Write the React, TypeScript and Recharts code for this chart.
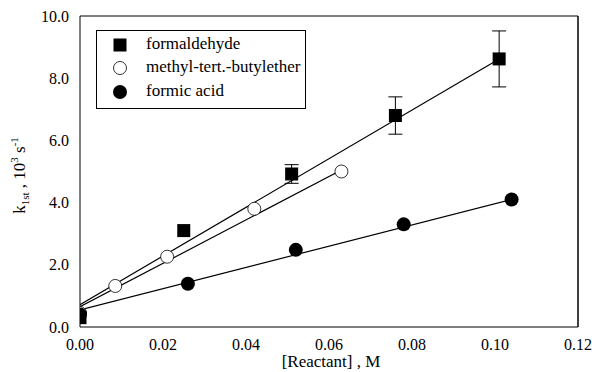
import React from 'react';
import { ScatterChart, Scatter, XAxis, YAxis, ErrorBar, Legend, Label } from 'recharts';

const xMajor = [0, 0.02, 0.04, 0.06, 0.08, 0.1, 0.12];
const xMinor = [0.01, 0.03, 0.05, 0.07, 0.09, 0.11];
const yMajor = [0, 2, 4, 6, 8, 10];
const yMinor = [1, 3, 5, 7, 9];

const seriesNames = ['formaldehyde', 'methyl-tert.-butylether', 'formic acid'];

const formaldehydeX = [0, 0.025, 0.051, 0.076, 0.101];
const formaldehydeY = [0.3, 3.1, 4.92, 6.8, 8.62];
const formaldehydeErr = [0, 0, 0.3, 0.6, 0.9];

const mtbeX = [0, 0.0085, 0.021, 0.042, 0.063];
const mtbeY = [0.45, 1.32, 2.26, 3.8, 5.0];

const formicX = [0, 0.026, 0.052, 0.078, 0.104];
const formicY = [0.4, 1.39, 2.48, 3.3, 4.1];

const formaldehydeFitX = [0, 0.101];
const formaldehydeFitY = [0.72, 8.62];
const mtbeFitX = [0, 0.063];
const mtbeFitY = [0.65, 5.05];
const formicFitX = [0, 0.104];
const formicFitY = [0.55, 4.1];

const zip = (xs: number[], ys: number[], errs?: number[]) =>
  xs.map((x, i) => ({ x, y: ys[i], err: errs ? errs[i] : 0 }));

const formaldehydeData = zip(formaldehydeX, formaldehydeY, formaldehydeErr);
const mtbeData = zip(mtbeX, mtbeY);
const formicData = zip(formicX, formicY);
const formaldehydeFit = zip(formaldehydeFitX, formaldehydeFitY);
const mtbeFit = zip(mtbeFitX, mtbeFitY);
const formicFit = zip(formicFitX, formicFitY);

const FONT = '"Liberation Serif", "Times New Roman", serif';
const XD: [number, number] = [0, 0.12];
const YD: [number, number] = [0, 10];

const Square = (p: any) => (
  <rect x={p.cx - 6.5} y={p.cy - 6.5} width={13} height={13} fill="#000" />
);
const OpenCircle = (p: any) => (
  <circle cx={p.cx} cy={p.cy} r={6.5} fill="#fff" stroke="#000" strokeWidth={0.8} />
);
const FilledCircle = (p: any) => <circle cx={p.cx} cy={p.cy} r={7} fill="#000" />;
const NoShape = () => <g />;

const LegendBox = () => {
  const icons = [
    <rect x={1.5} y={1.5} width={13} height={13} fill="#000" />,
    <circle cx={8} cy={8} r={6.5} fill="#fff" stroke="#000" strokeWidth={0.8} />,
    <circle cx={8} cy={8} r={7} fill="#000" />,
  ];
  const rowsY = [15, 38, 62];
  return (
    <div
      style={{
        position: 'relative',
        width: 210,
        height: 79,
        border: '1px solid #000',
        boxSizing: 'border-box',
        background: '#fff',
        fontFamily: FONT,
        fontSize: 17,
        color: '#000',
      }}
    >
      {seriesNames.map((n, i) => (
        <div key={n}>
          <svg
            width={16}
            height={16}
            style={{ position: 'absolute', left: 15, top: rowsY[i] - 8 - 1 }}
          >
            {icons[i]}
          </svg>
          <span
            style={{
              position: 'absolute',
              left: 49,
              top: rowsY[i] - 11 - 1,
              lineHeight: '20px',
              whiteSpace: 'nowrap',
              fontFamily: FONT,
            }}
          >
            {n}
          </span>
        </div>
      ))}
    </div>
  );
};

const YLabel = (props: any) => {
  const vb = props.viewBox || {};
  const x = 25;
  const y = (vb.y ?? 16) + (vb.height ?? 311) / 2 + 4;
  return (
    <text
      x={x}
      y={y}
      transform={`rotate(-90, ${x}, ${y})`}
      textAnchor="middle"
      fontFamily={FONT}
      fontSize={17}
      fill="#000"
    >
      <tspan>k</tspan>
      <tspan fontSize={11} dy={4}>1st</tspan>
      <tspan dy={-4}> , 10</tspan>
      <tspan fontSize={11} dy={-7}>3</tspan>
      <tspan dy={7}> s</tspan>
      <tspan fontSize={11} dy={-7}>-1</tspan>
    </text>
  );
};

const XLabel = (props: any) => {
  const vb = props.viewBox || {};
  const cx = (vb.x ?? 80) + (vb.width ?? 498) / 2 + 2;
  return (
    <text x={cx} y={367} textAnchor="middle" fontFamily={FONT} fontSize={17} fill="#000">
      [Reactant] , M
    </text>
  );
};

const tickStyle = { fill: '#000', fontSize: 16, fontFamily: FONT };
const lineStyle = { stroke: '#000', strokeWidth: 1 };

export default function App() {
  return (
    <div style={{ position: 'absolute', left: 0, top: 0, width: 592, height: 372, background: '#fff' }}>
      <ScatterChart
        width={592}
        height={372}
        margin={{ top: 16, right: 14, left: 0, bottom: 0 }}
      >
        {/* label axes */}
        <XAxis
          xAxisId="x"
          type="number"
          dataKey="x"
          domain={XD}
          ticks={xMajor}
          allowDataOverflow
          height={45}
          tickLine={false}
          tickSize={0}
          tickMargin={12}
          axisLine={lineStyle}
          tick={tickStyle}
          tickFormatter={(v: number) => v.toFixed(2)}
          interval={0}
        >
          <Label content={XLabel} />
        </XAxis>
        <YAxis
          yAxisId="y"
          type="number"
          dataKey="y"
          domain={YD}
          ticks={yMajor}
          allowDataOverflow
          width={80}
          tickLine={false}
          tickSize={0}
          tickMargin={11}
          axisLine={lineStyle}
          tick={tickStyle}
          tickFormatter={(v: number) => v.toFixed(1)}
          interval={0}
        >
          <Label content={YLabel} />
        </YAxis>

        {/* inward tick axes */}
        <XAxis xAxisId="xb1" type="number" domain={XD} ticks={xMajor} mirror tick={false} tickSize={8} tickLine={lineStyle} axisLine={false} interval={0} />
        <XAxis xAxisId="xb2" type="number" domain={XD} ticks={xMinor} mirror tick={false} tickSize={5} tickLine={lineStyle} axisLine={false} interval={0} />
        <XAxis xAxisId="xt1" orientation="top" type="number" domain={XD} ticks={xMajor} mirror tick={false} tickSize={8} tickLine={lineStyle} axisLine={lineStyle} interval={0} />
        <XAxis xAxisId="xt2" orientation="top" type="number" domain={XD} ticks={xMinor} mirror tick={false} tickSize={5} tickLine={lineStyle} axisLine={false} interval={0} />
        <YAxis yAxisId="yl1" type="number" domain={YD} ticks={yMajor} mirror tick={false} tickSize={8} tickLine={lineStyle} axisLine={false} interval={0} />
        <YAxis yAxisId="yl2" type="number" domain={YD} ticks={yMinor} mirror tick={false} tickSize={5} tickLine={lineStyle} axisLine={false} interval={0} />
        <YAxis yAxisId="yr1" orientation="right" type="number" domain={YD} ticks={yMajor} mirror tick={false} tickSize={8} tickLine={lineStyle} axisLine={{ stroke: '#000', strokeWidth: 1.5 }} interval={0} />
        <YAxis yAxisId="yr2" orientation="right" type="number" domain={YD} ticks={yMinor} mirror tick={false} tickSize={5} tickLine={lineStyle} axisLine={false} interval={0} />

        {/* fit lines */}
        <Scatter xAxisId="x" yAxisId="y" data={formaldehydeFit} line={{ stroke: '#000', strokeWidth: 1.2 }} shape={NoShape} isAnimationActive={false} legendType="none" />
        <Scatter xAxisId="x" yAxisId="y" data={mtbeFit} line={{ stroke: '#000', strokeWidth: 1.2 }} shape={NoShape} isAnimationActive={false} legendType="none" />
        <Scatter xAxisId="x" yAxisId="y" data={formicFit} line={{ stroke: '#000', strokeWidth: 1.2 }} shape={NoShape} isAnimationActive={false} legendType="none" />

        {/* data */}
        <Scatter xAxisId="x" yAxisId="y" name={seriesNames[1]} data={mtbeData} shape={OpenCircle} isAnimationActive={false} />
        <Scatter xAxisId="x" yAxisId="y" name={seriesNames[2]} data={formicData} shape={FilledCircle} isAnimationActive={false} />
        <Scatter xAxisId="x" yAxisId="y" name={seriesNames[0]} data={formaldehydeData} shape={Square} isAnimationActive={false}>
          <ErrorBar dataKey="err" direction="y" width={7} stroke="#000" strokeWidth={1} isAnimationActive={false} />
        </Scatter>

        <Legend
          layout="vertical"
          align="center"
          verticalAlign="middle"
          content={LegendBox}
          wrapperStyle={{ position: 'absolute', left: 96, top: 30, width: 210, height: 79 }}
        />
      </ScatterChart>
    </div>
  );
}
